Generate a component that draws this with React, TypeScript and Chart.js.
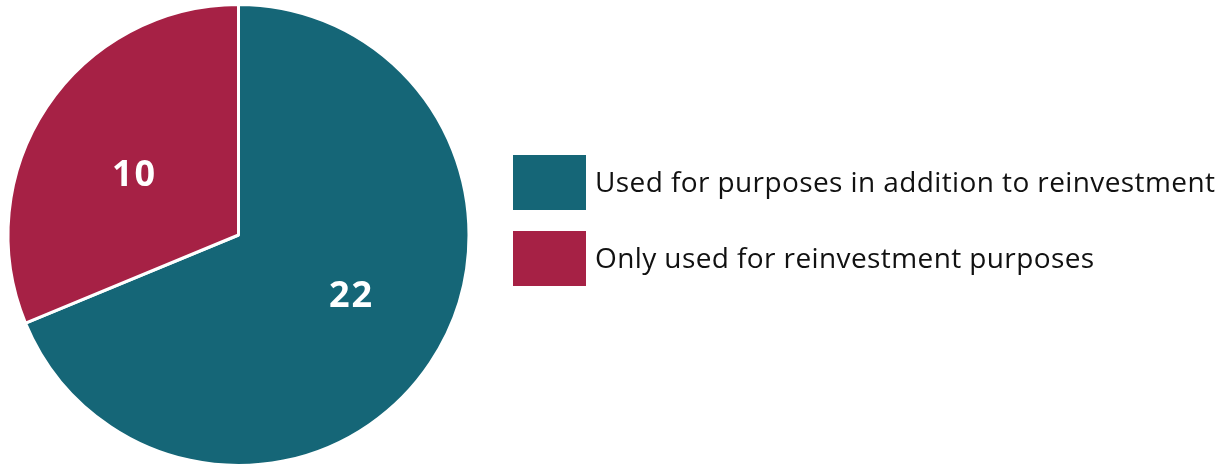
import React, { useEffect, useRef } from "react";
import { Chart, registerables } from "chart.js";

Chart.register(...registerables);

const categories = [
  "Used for purposes in addition to reinvestment",
  "Only used for reinvestment purposes",
];
const values = [22, 10];
const colors = ["#156677", "#A62145"];

const legendPlugin = {
  id: "customLegend",
  afterDraw(chart: any) {
    const ctx = chart.ctx;
    ctx.save();
    categories.forEach((label, i) => {
      const top = 155 + i * 76;
      ctx.fillStyle = colors[i];
      ctx.fillRect(513, top, 73, 55);
      ctx.fillStyle = "#111111";
      ctx.font = "28px 'Open Sans'";
      (ctx as any).letterSpacing = "0.4px";
      ctx.textBaseline = "middle";
      ctx.textAlign = "left";
      ctx.fillText(label, 595, top + 29);
    });
    ctx.restore();
  },
};

const labelRadius = [0.554, 0.523];
const labelAngleShift = [-0.088, -0.075];

const valueLabelPlugin = {
  id: "valueLabels",
  afterDatasetsDraw(chart: any) {
    const ctx = chart.ctx;
    const meta = chart.getDatasetMeta(0);
    ctx.save();
    ctx.fillStyle = "#ffffff";
    ctx.font = "bold 36px 'Open Sans'";
    (ctx as any).letterSpacing = "2px";
    ctx.textAlign = "center";
    ctx.textBaseline = "middle";
    meta.data.forEach((arc: any, i: number) => {
      const p = arc.getProps(["x", "y", "startAngle", "endAngle", "outerRadius"], true);
      const mid = (p.startAngle + p.endAngle) / 2 + labelAngleShift[i];
      const r = p.outerRadius * labelRadius[i];
      ctx.fillText(String(values[i]), p.x + Math.cos(mid) * r + 1, p.y + Math.sin(mid) * r);
    });
    ctx.restore();
  },
};

export default function App() {
  const ref = useRef<HTMLCanvasElement>(null);
  useEffect(() => {
    document.body.style.margin = "0";
    const chart = new Chart(ref.current!, {
      type: "pie",
      data: {
        labels: categories,
        datasets: [
          {
            data: values,
            backgroundColor: colors,
            borderColor: "#ffffff",
            borderWidth: 3,
          },
        ],
      },
      options: {
        animation: false,
        responsive: false,
        layout: { padding: { top: 3, left: 3, right: 757, bottom: -5 } },
        plugins: {
          legend: { display: false },
          tooltip: { enabled: false },
        },
      },
      plugins: [valueLabelPlugin, legendPlugin],
    });
    return () => chart.destroy();
  }, []);
  return (
    <div style={{ width: 1231, height: 467 }}>
      <canvas ref={ref} width={1231} height={467} />
    </div>
  );
}
